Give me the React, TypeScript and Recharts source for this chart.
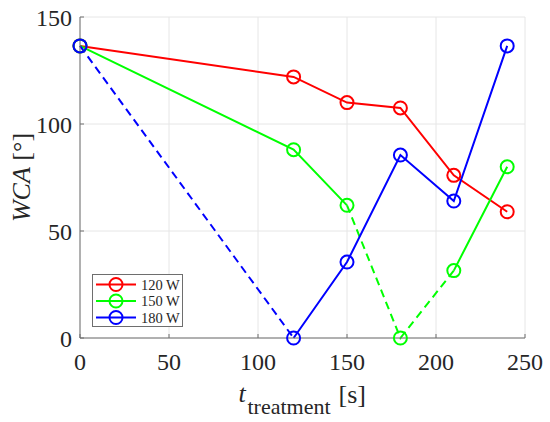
import { LineChart, Line, XAxis, YAxis, CartesianGrid, Legend, Label } from "recharts"

const times = [0, 120, 150, 180, 210, 240]
const w120 = [136.5, 122, 110, 107.5, 76, 59]
const w150 = [136.5, 88, 62, 0, 31.5, 80]
const w180 = [136.5, 0, 35.5, 85.5, 64, 136.5]

const xTicks = [0, 50, 100, 150, 200, 250]
const yTicks = [0, 50, 100, 150]

// index of the first point of each segment that is drawn dashed
const dashed120: number[] = []
const dashed150 = [2, 3]
const dashed180 = [0]

interface Series {
  key: string
  name: string
  color: string
  values: number[]
  dashed: number[]
}

const series: Series[] = [
  { key: "p120", name: "120 W", color: "#ff0000", values: w120, dashed: dashed120 },
  { key: "p150", name: "150 W", color: "#00ff00", values: w150, dashed: dashed150 },
  { key: "p180", name: "180 W", color: "#0000ff", values: w180, dashed: dashed180 },
]

function splitSegments(values: number[], dashed: number[]) {
  const solid: (number | null)[] = values.map(() => null)
  const dash: (number | null)[] = values.map(() => null)
  for (let i = 0; i < values.length - 1; i++) {
    const target = dashed.includes(i) ? dash : solid
    target[i] = values[i]
    target[i + 1] = values[i + 1]
  }
  return { solid, dash }
}

const split = series.map((s) => splitSegments(s.values, s.dashed))

const data = times.map((t, i) => {
  const row: Record<string, number | null> = { t }
  series.forEach((s, k) => {
    row[s.key] = s.values[i]
    row[s.key + "S"] = split[k].solid[i]
    row[s.key + "D"] = split[k].dash[i]
  })
  return row
})

const W = 550
const H = 422
const LEFT = 80
const TOP = 17
const RIGHT = 25
const BOTTOM = 84

const FONT = "Liberation Serif"
const TEXT = "#262626"
const AXIS = "#6e6e6e"

interface TickProps {
  x?: number
  y?: number
  payload?: { value: number }
}

function XTick({ x, y, payload }: TickProps) {
  return (
    <text
      x={x}
      y={(y ?? 0) + 17}
      textAnchor="middle"
      style={{ fontFamily: FONT, fontSize: 24 }}
      fill={TEXT}
    >
      {payload?.value}
    </text>
  )
}

function YTick({ x, y, payload }: TickProps) {
  return (
    <text
      x={x}
      y={(y ?? 0) + 8.5}
      textAnchor="end"
      style={{ fontFamily: FONT, fontSize: 24 }}
      fill={TEXT}
    >
      {payload?.value}
    </text>
  )
}

function XTitle() {
  const cx = LEFT + (W - LEFT - RIGHT) / 2
  return (
    <text style={{ fontFamily: FONT }} fill={TEXT}>
      <tspan x={cx - 64} y={402} fontSize={26} fontStyle="italic">
        t
      </tspan>
      <tspan x={cx - 55} y={414} fontSize={22}>
        treatment
      </tspan>
      <tspan x={cx + 36} y={403} fontSize={26}>
        [s]
      </tspan>
    </text>
  )
}

function YTitle() {
  const cy = TOP + (H - TOP - BOTTOM) / 2
  return (
    <text
      x={30}
      y={cy}
      transform={`rotate(-90, 30, ${cy})`}
      textAnchor="middle"
      style={{ fontFamily: FONT, fontSize: 26 }}
      fill={TEXT}
    >
      <tspan fontStyle="italic">WCA</tspan>
      <tspan> [°]</tspan>
    </text>
  )
}

function LegendBox() {
  const rowH = 16.5
  return (
    <svg width={91} height={53} style={{ display: "block" }}>
      <rect x={0.5} y={0.5} width={90} height={52} fill="#fff" stroke={AXIS} />
      {series.map((s, i) => {
        const y = 10.5 + i * rowH
        return (
          <g key={s.key}>
            <line x1={4} x2={44} y1={y} y2={y} stroke={s.color} strokeWidth={2} />
            <circle cx={24} cy={y} r={6.5} fill="none" stroke={s.color} strokeWidth={2} />
            <text x={49} y={y + 5} style={{ fontFamily: FONT, fontSize: 14.5 }} fill={TEXT}>
              {s.name}
            </text>
          </g>
        )
      })}
    </svg>
  )
}

export default function App() {
  return (
    <>
      <style>{"body{margin:0} .recharts-wrapper text{font-family:'Liberation Serif',serif}"}</style>
      <LineChart
        width={W}
        height={H}
        data={data}
        margin={{ top: TOP, right: RIGHT, left: 0, bottom: 0 }}
      >
        <CartesianGrid stroke="#e6e6e6" strokeWidth={1} />
        <XAxis
          dataKey="t"
          type="number"
          domain={[0, 250]}
          ticks={xTicks}
          height={BOTTOM}
          stroke={AXIS}
          tickSize={-4}
          tickMargin={19}
          tick={<XTick />}
        >
          <Label content={XTitle} />
        </XAxis>
        <XAxis
          xAxisId="top"
          dataKey="t"
          type="number"
          orientation="top"
          domain={[0, 250]}
          ticks={xTicks}
          height={0}
          stroke={AXIS}
          tickSize={-4}
          tick={false}
        />
        <YAxis
          type="number"
          domain={[0, 150]}
          ticks={yTicks}
          width={LEFT}
          stroke={AXIS}
          tickSize={-4}
          tickMargin={12}
          tick={<YTick />}
        >
          <Label content={YTitle} />
        </YAxis>
        <YAxis
          yAxisId="right"
          type="number"
          orientation="right"
          domain={[0, 150]}
          ticks={yTicks}
          width={0}
          stroke={AXIS}
          tickSize={-4}
          tick={false}
        />
        <Legend
          layout="vertical"
          align="center"
          verticalAlign="middle"
          wrapperStyle={{ left: 92, top: 274, width: 91 }}
          content={LegendBox}
        />
        {series.flatMap((s) => [
          <Line
            key={s.key + "S"}
            dataKey={s.key + "S"}
            type="linear"
            stroke={s.color}
            strokeWidth={2}
            dot={false}
            activeDot={false}
            legendType="none"
            isAnimationActive={false}
          />,
          <Line
            key={s.key + "D"}
            dataKey={s.key + "D"}
            type="linear"
            stroke={s.color}
            strokeWidth={2}
            strokeDasharray="8 5"
            dot={false}
            activeDot={false}
            legendType="none"
            isAnimationActive={false}
          />,
          <Line
            key={s.key}
            dataKey={s.key}
            name={s.name}
            type="linear"
            stroke="none"
            dot={{ r: 6.5, stroke: s.color, strokeWidth: 2, fill: "none" }}
            activeDot={false}
            isAnimationActive={false}
          />,
        ])}
      </LineChart>
    </>
  )
}
